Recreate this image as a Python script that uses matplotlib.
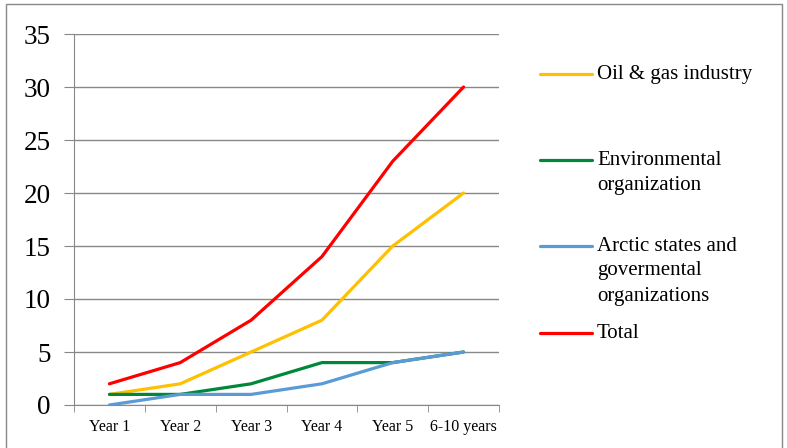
import matplotlib.pyplot as plt
from matplotlib.lines import Line2D
from matplotlib.patches import Rectangle

plt.rcParams['font.family'] = ['Liberation Serif', 'DejaVu Serif']

categories = ['Year 1', 'Year 2', 'Year 3', 'Year 4', 'Year 5', '6-10 years']
oil_gas = [1, 2, 5, 8, 15, 20]
environmental = [1, 1, 2, 4, 4, 5]
arctic = [0, 1, 1, 2, 4, 5]
total = [2, 4, 8, 14, 23, 30]

series = [
    (['Oil & gas industry'], oil_gas, '#FFC000'),
    (['Environmental', 'organization'], environmental, '#00883A'),
    (['Arctic states and', 'govermental', 'organizations'], arctic, '#5B9BD5'),
    (['Total'], total, '#FF0000'),
]

W, H = 787, 448
fig = plt.figure(figsize=(W / 100, H / 100), dpi=100)
ax = fig.add_axes([74 / W, 1 - 405 / H, (499 - 74) / W, (405 - 34) / H])

x = list(range(len(categories)))
for name, vals, col in series:
    ax.plot(x, vals, color=col, lw=2.3, solid_capstyle='round', zorder=3)

ax.set_xlim(-0.5, len(categories) - 0.5)
ax.set_ylim(0, 35)
ax.set_yticks(range(0, 36, 5))
ax.set_xticks(x)
ax.set_xticklabels(categories, fontsize=11.5)
ax.set_xticks([i - 0.5 for i in range(len(categories) + 1)], minor=True)
ax.tick_params(axis='x', which='major', length=0, pad=10)
ax.tick_params(axis='x', which='minor', length=5, color='#888888', direction='out')
ax.tick_params(axis='y', length=7, color='#888888', labelsize=19.5, pad=10)
ax.grid(axis='y', color='#888888', lw=1)
ax.set_axisbelow(True)
for s in ['top', 'right']:
    ax.spines[s].set_visible(False)
for s in ['left', 'bottom']:
    ax.spines[s].set_color('#888888')

# legend drawn by hand to keep the uneven spacing
legend_y = [74, 160, 246, 333]
for (lines, vals, col), ly in zip(series, legend_y):
    fy = 1 - ly / H
    fig.add_artist(Line2D([540 / W, 592 / W], [fy, fy], color=col, lw=2.3,
                          solid_capstyle='round', transform=fig.transFigure))
    for k, txt in enumerate(lines):
        fig.text(597 / W, 1 - (ly + 25 * k) / H, txt, fontsize=15,
                 va='center', ha='left')

# figure border
fig.add_artist(Rectangle((6 / W, -0.1), (782 - 6) / W, 1.1 - 4 / H, fill=False,
                         edgecolor='#888888', lw=1, transform=fig.transFigure))

fig.savefig('out.png', dpi=100)
